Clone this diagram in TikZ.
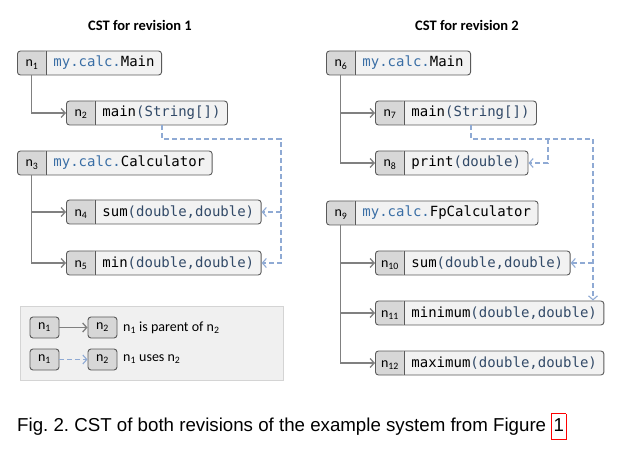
\documentclass[tikz,border=0pt]{standalone}
\usepackage{fontspec}
\setmainfont{Liberation Sans}
\setmonofont{DejaVu Sans Mono}
\newfontfamily\carl{Carlito}
\usetikzlibrary{arrows.meta,positioning}
\definecolor{ink}{RGB}{90,90,90}
\definecolor{boxfill}{RGB}{242,242,242}
\definecolor{idfill}{RGB}{215,215,215}
\definecolor{treeline}{RGB}{128,128,128}
\definecolor{useline}{RGB}{143,170,212}
\definecolor{pkgblue}{RGB}{58,110,165}
\definecolor{prmblue}{RGB}{50,74,104}
\definecolor{legfill}{RGB}{240,240,240}
\definecolor{legline}{RGB}{212,212,212}
\tikzset{
  cst/.style={draw=ink,fill=boxfill,rounded corners=3pt,anchor=west,
    minimum height=24pt,inner xsep=0pt,inner ysep=0pt,line width=0.9pt,
    font=\fontsize{14}{16}\selectfont,
    path picture={
      \fill[idfill] (path picture bounding box.south west) rectangle
        ([xshift=29pt]path picture bounding box.north west);
      \draw[ink,line width=0.9pt] ([xshift=29pt]path picture bounding box.south west)
        -- ([xshift=29pt]path picture bounding box.north west);}},
  tree/.style={draw=treeline,line width=1.3pt,
    -{Straight Barb[length=4pt,width=9pt]}},
  uses/.style={draw=useline,line width=1.1pt,dash pattern=on 5pt off 3pt,
    -{Straight Barb[length=4pt,width=9pt]}},
  leg/.style={draw=ink,fill=idfill,rounded corners=3pt,line width=0.9pt,
    minimum width=29pt,minimum height=21pt,inner sep=0pt,
    font=\carl\fontsize{14}{16}\selectfont},
  legbox/.style={draw=legline,fill=legfill,line width=0.9pt,
    minimum width=263pt,minimum height=74pt,inner sep=0pt},
  legtxt/.style={anchor=west,inner sep=0pt,font=\carl\fontsize{14}{16}\selectfont},
  ttl/.style={font=\carl\bfseries\fontsize{14.5}{16}\selectfont},
}
\newcommand{\cstid}[1]{\makebox[29pt]{\carl n\textsubscript{#1}}}
\newcommand{\cstbody}[2]{\cstid{#1}\hspace*{7pt}{\ttfamily #2}\hspace*{7pt}}
\newcommand{\pkg}[1]{\textcolor{pkgblue}{#1}}
\newcommand{\prm}[1]{\textcolor{prmblue}{#1}}

\begin{document}
\begin{tikzpicture}[x=1pt,y=-1pt]
  \useasboundingbox (0,0) rectangle (627,449);
  % titles
  \node[ttl] (t1) at (140,25) {CST for revision 1};
  \node[ttl] (t2) at (467,25) {CST for revision 2};
  % revision 1
  \node[cst] (n1) at (17,63)  {\cstbody{1}{\pkg{my.calc.}Main}};
  \node[cst] (n2) at (66,113) {\cstbody{2}{main\prm{(String[])}}};
  \node[cst] (n3) at (17,163) {\cstbody{3}{\pkg{my.calc.}Calculator}};
  \node[cst] (n4) at (66,212) {\cstbody{4}{sum\prm{(double,double)}}};
  \node[cst] (n5) at (66,263) {\cstbody{5}{min\prm{(double,double)}}};
  \draw[tree] ([xshift=14.5pt]n1.south west) |- (n2.west);
  \draw[tree] ([xshift=14.5pt]n3.south west) |- (n4.west);
  \draw[tree] ([xshift=14.5pt]n3.south west) |- (n5.west);
  \coordinate (u1) at (281,139);
  \draw[uses] ([xshift=96pt]n2.south west) |- (u1) |- (n5.east);
  \draw[uses] (u1 |- n4.east) -- (n4.east);
  % revision 2
  \node[cst] (n6)  at (326,63)  {\cstbody{6}{\pkg{my.calc.}Main}};
  \node[cst] (n7)  at (375,113) {\cstbody{7}{main\prm{(String[])}}};
  \node[cst] (n8)  at (375,163) {\cstbody{8}{print\prm{(double)}}};
  \node[cst] (n9)  at (326,213) {\cstbody{9}{\pkg{my.calc.}FpCalculator}};
  \node[cst] (n10) at (375,263) {\cstbody{10}{sum\prm{(double,double)}}};
  \node[cst] (n11) at (375,313) {\cstbody{11}{minimum\prm{(double,double)}}};
  \node[cst] (n12) at (375,363) {\cstbody{12}{maximum\prm{(double,double)}}};
  \draw[tree] ([xshift=14.5pt]n6.south west) |- (n7.west);
  \draw[tree] ([xshift=14.5pt]n6.south west) |- (n8.west);
  \draw[tree] ([xshift=14.5pt]n9.south west) |- (n10.west);
  \draw[tree] ([xshift=14.5pt]n9.south west) |- (n11.west);
  \draw[tree] ([xshift=14.5pt]n9.south west) |- (n12.west);
  \coordinate (u2) at (593,139);
  \coordinate (u3) at (548,139);
  \draw[uses] ([xshift=96pt]n7.south west) |- (u2) -- (u2 |- n11.north);
  \draw[uses] (u3) |- (n8.east);
  \draw[uses] (u2 |- n10.east) -- (n10.east);
  % legend
  \node[legbox] (legend) at (151.5,343) {};
  \node[leg] (la) at (44.5,327.5) {n\textsubscript{1}};
  \node[leg] (lb) at (102.5,327.5) {n\textsubscript{2}};
  \node[leg] (lc) at (44.5,359.5) {n\textsubscript{1}};
  \node[leg] (ld) at (102.5,359.5) {n\textsubscript{2}};
  \draw[tree] (la) -- (lb);
  \draw[uses] (lc) -- (ld);
  \node[legtxt] (lt1) at (123,327.5) {n\textsubscript{1} is parent of n\textsubscript{2}};
  \node[legtxt] (lt2) at (123,359.5) {n\textsubscript{1} uses n\textsubscript{2}};
  % caption
  \node[anchor=base west,inner sep=0pt,font=\fontsize{18.7}{22}\selectfont] (cap) at (17,431)
    {\frenchspacing Fig. 2. CST of both revisions of the example system from Figure
     \setlength{\fboxsep}{1.5pt}\setlength{\fboxrule}{0.8pt}\fcolorbox{red}{white}{\strut 1}};
\end{tikzpicture}
\end{document}
